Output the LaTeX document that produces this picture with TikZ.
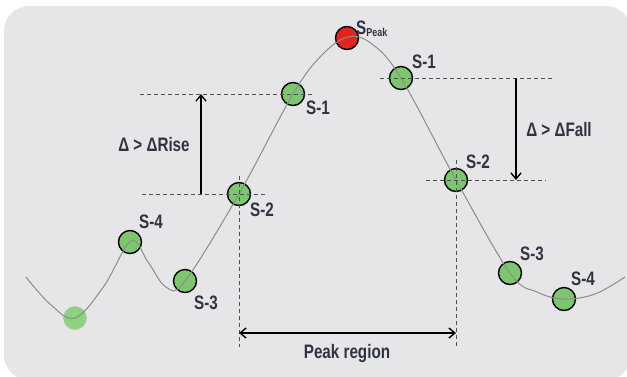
\documentclass[tikz,border=0pt]{standalone}
\usepackage{fontspec}
\setmainfont{Liberation Sans}[FakeStretch=0.78]
\usetikzlibrary{arrows.meta}
\definecolor{bg}{HTML}{E6E6E8}
\definecolor{ptgreen}{HTML}{7CC66E}
\definecolor{ptgreenlt}{HTML}{8DD27F}
\definecolor{ptred}{HTML}{E5231E}
\definecolor{txt}{HTML}{2E3440}
\definecolor{curvegray}{HTML}{8C8C8C}
\definecolor{dashgray}{HTML}{505050}
\tikzset{
  pt/.style={circle, minimum size=23pt, inner sep=0pt, draw=black, line width=1.4pt, fill=ptgreen},
  ptfaint/.style={circle, minimum size=23pt, inner sep=0pt, draw=ptgreenlt!80!black!60, line width=0.6pt, fill=ptgreenlt},
  ptpeak/.style={pt, fill=ptred},
  lbl/.style={font=\bfseries\fontsize{19.5}{21}\selectfont, text=txt, inner sep=0pt},
  guide/.style={dashgray, dash pattern=on 4pt off 3pt, line width=0.9pt},
  meas/.style={black, line width=1.4pt, -{Straight Barb[length=6pt,width=10pt,line width=1.4pt]}},
  curveline/.style={curvegray, line width=1pt},
}
\begin{document}
\begin{tikzpicture}[x=1pt,y=-1pt]
\useasboundingbox (0,0) rectangle (627,376);
\fill[white] (0,0) rectangle (627,376);
\fill[bg, rounded corners=25pt] (4,6) rectangle (631,380);

% sample points
\node[ptfaint] (p0) at (75,318) {};
\node[pt] (l4) at (130,242) {};
\node[pt] (l3) at (185,281) {};
\node[pt] (l2) at (239,194) {};
\node[pt] (l1) at (293,94) {};
\node[ptpeak] (pk) at (347,38) {};
\node[pt] (r1) at (401,78) {};
\node[pt] (r2) at (456,180) {};
\node[pt] (r3) at (510,273) {};
\node[pt] (r4) at (564,299) {};

% curve
\draw[curveline] plot[smooth, tension=0.6] coordinates {
 (26,277) (50,304) (75,318) (104,286) (131,241) (148,262) (166,287) (185,281)
 (239,194) (293,94) (322,55) (348,37) (372,44) (401,78) (456,180) (510,273) (537,292) (564,299) (595,294) (625,277)};

% guides left
\coordinate (lt1) at (140,94);  \coordinate (lt2) at (312,94);
\coordinate (lb1) at (142,194); \coordinate (lb2) at (267,194);
\draw[guide] (lt1) -- (lt2);
\draw[guide] (lb1) -- (lb2);
\coordinate (la1) at (201,194); \coordinate (la2) at (201,94);
\draw[meas] (la1) -- (la2);
\node[lbl] (rise) at (154,145) {Δ > ΔRise};

% guides right
\coordinate (rt1) at (380,78);  \coordinate (rt2) at (552,78);
\coordinate (rb1) at (426,180); \coordinate (rb2) at (546,180);
\draw[guide] (rt1) -- (rt2);
\draw[guide] (rb1) -- (rb2);
\coordinate (ra1) at (516,78); \coordinate (ra2) at (516,180);
\draw[meas] (ra1) -- (ra2);
\node[lbl] (fall) at (559,130) {Δ > ΔFall};

% vertical region guides
\coordinate (v1t) at (239,176); \coordinate (v1b) at (239,347);
\coordinate (v2t) at (456,160); \coordinate (v2b) at (456,347);
\draw[guide] (v1t) -- (v1b);
\draw[guide] (v2t) -- (v2b);
\coordinate (pa1) at (239,333); \coordinate (pa2) at (456,333);
\draw[black, line width=1.4pt, {Straight Barb[length=6pt,width=10pt,line width=1.4pt]}-{Straight Barb[length=6pt,width=10pt,line width=1.4pt]}] (pa1) -- (pa2);
\node[lbl] (region) at (347,353) {Peak region};

% labels
\node[lbl, anchor=base west] (spk) at (356,34) {S\raisebox{-0.25ex}{\fontsize{11.5}{12}\selectfont Peak}};
\node[lbl] (tl1) at (318,108) {S-1};
\node[lbl] (tl2) at (262,210) {S-2};
\node[lbl] (tl4) at (151,222) {S-4};
\node[lbl] (tl3) at (206,303) {S-3};
\node[lbl] (tr1) at (424,62) {S-1};
\node[lbl] (tr2) at (478,162) {S-2};
\node[lbl] (tr3) at (532,254) {S-3};
\node[lbl] (tr4) at (583,279) {S-4};
\end{tikzpicture}
\end{document}
